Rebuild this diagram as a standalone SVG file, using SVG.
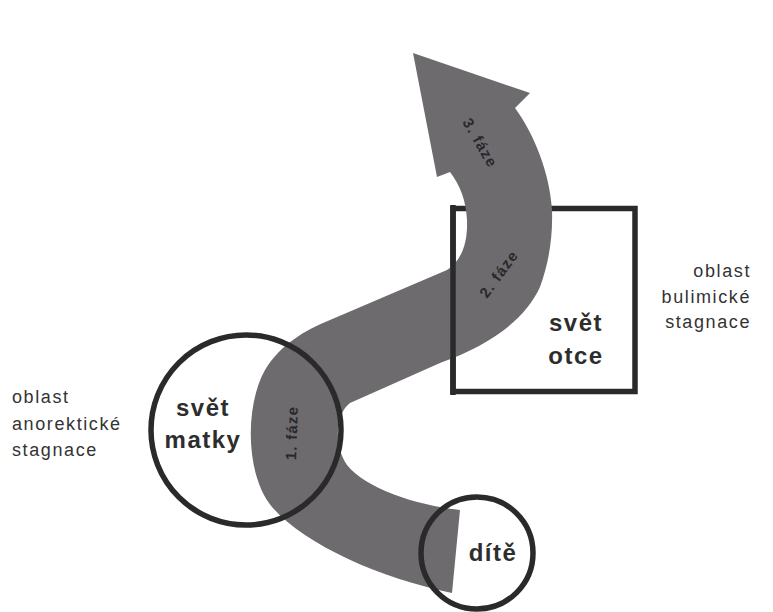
<svg xmlns="http://www.w3.org/2000/svg" width="773" height="612" viewBox="0 0 773 612">
<style>
.ol{fill:none;stroke:#2a2a2a;stroke-width:5.5}
.lbl{font-family:"Liberation Sans",Arial,sans-serif;font-weight:bold;font-size:24px;fill:#2d2d2d;letter-spacing:1.5px}
.side{font-family:"Liberation Sans",Arial,sans-serif;font-size:18px;fill:#333333;letter-spacing:1.6px}
.ph{font-family:"Liberation Sans",Arial,sans-serif;font-weight:bold;font-size:15px;fill:#2a282c;letter-spacing:1.2px}
</style>
<rect width="773" height="612" fill="#ffffff"/>
<g id="otce">
<rect class="ol" x="453" y="208.5" width="182" height="183" stroke-width="6.5"/>
</g>
<g id="connectors">
<path id="arrow" fill="#6e6b6f" d="M413,53 L530,93 L515,108 C535,135 550,175 552,210 C553,240 548,265 540,287 C525,320 490,345 440,363 L350,403 C336,413 333,445 347,465 C365,488 415,505 460,510 L452,593 C380,578 305,545 272,507 C245,475 245,405 265,370 C280,345 305,330 330,320 L447,270 C460,262 468,245 467,220 C466,200 460,185 450,172 L437,177 Z"/>
<text class="ph" transform="translate(480,143) rotate(60)" text-anchor="middle" dy="5">3. fáze</text>
<text class="ph" transform="translate(499,274) rotate(-54)" text-anchor="middle" dy="5">2. fáze</text>
<text class="ph" transform="translate(292,433) rotate(-88)" text-anchor="middle" dy="5">1. fáze</text>
</g>
<g id="otce-front">
<line class="ol" x1="453" y1="205" x2="453" y2="395" stroke-width="6.5"/>
<text class="lbl" x="576" y="331" text-anchor="middle">svět</text>
<text class="lbl" x="576" y="364" text-anchor="middle">otce</text>
</g>
<g id="matka">
<circle class="ol" cx="246" cy="430" r="95"/>
<text class="lbl" x="203" y="416" text-anchor="middle">svět</text>
<text class="lbl" x="203" y="448" text-anchor="middle">matky</text>
</g>
<g id="dite">
<circle class="ol" cx="477" cy="553" r="56"/>
<text class="lbl" x="493" y="561" text-anchor="middle">dítě</text>
</g>
<g id="anorekticka">
<text class="side" x="12" y="403">oblast</text>
<text class="side" x="12" y="430">anorektické</text>
<text class="side" x="12" y="456">stagnace</text>
</g>
<g id="bulimicka">
<text class="side" x="751" y="277" text-anchor="end">oblast</text>
<text class="side" x="751" y="303" text-anchor="end">bulimické</text>
<text class="side" x="751" y="328" text-anchor="end">stagnace</text>
</g>
</svg>
